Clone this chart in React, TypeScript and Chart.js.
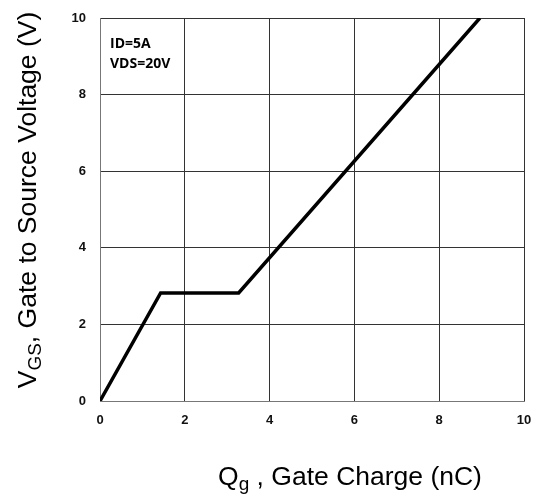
import React, { useEffect, useRef } from "react";
import { Chart, registerables } from "chart.js";

Chart.register(...registerables);

const qg: number[] = [0, 1.43, 3.27, 8.96];
const vgs: number[] = [0, 2.82, 2.82, 10];
const xTicks: number[] = [0, 2, 4, 6, 8, 10];
const yTicks: number[] = [0, 2, 4, 6, 8, 10];
const noteLines: string[] = ["ID=5A", "VDS=20V"];

type Seg = { t: string; sub?: boolean };
const xTitle: Seg[] = [{ t: "Q" }, { t: "g", sub: true }, { t: " , Gate Charge (nC)" }];
const yTitle: Seg[] = [{ t: "V" }, { t: "GS", sub: true }, { t: ", Gate to Source Voltage (V)" }];

const FONT = "'Liberation Sans', Arial, sans-serif";

function drawSegs(ctx: CanvasRenderingContext2D, segs: Seg[], size: number) {
  const main = `${size}px ${FONT}`;
  const sub = `${Math.round(size * 0.7)}px ${FONT}`;
  let w = 0;
  for (const s of segs) {
    ctx.font = s.sub ? sub : main;
    w += ctx.measureText(s.t).width;
  }
  let x = -w / 2;
  for (const s of segs) {
    ctx.font = s.sub ? sub : main;
    ctx.fillText(s.t, x, s.sub ? size * 0.2 : 0);
    x += ctx.measureText(s.t).width;
  }
}

const titlesPlugin = {
  id: "titlesPlugin",
  afterDraw(chart: any) {
    const ctx: CanvasRenderingContext2D = chart.ctx;
    ctx.save();
    ctx.fillStyle = "#000";
    ctx.textBaseline = "alphabetic";
    ctx.textAlign = "left";
    ctx.save();
    ctx.translate(350, 485);
    drawSegs(ctx, xTitle, 26.5);
    ctx.restore();
    ctx.save();
    ctx.translate(36, 200);
    ctx.rotate(-Math.PI / 2);
    drawSegs(ctx, yTitle, 26.5);
    ctx.restore();
    ctx.font = `bold 14px 'Open Sans', 'Liberation Sans', sans-serif`;
    noteLines.forEach((line, i) => {
      ctx.fillText(line, 110, 48 + i * 20);
    });
    ctx.restore();
  },
};

export default function App() {
  const ref = useRef<HTMLCanvasElement | null>(null);
  useEffect(() => {
    document.body.style.margin = "0";
    const canvas = ref.current!;
    const chart = new Chart(canvas, {
      type: "line",
      data: {
        datasets: [
          {
            data: qg.map((x, i) => ({ x, y: vgs[i] })),
            borderColor: "#000",
            borderWidth: 3.5,
            pointRadius: 0,
            tension: 0,
            fill: false,
          },
        ],
      },
      options: {
        animation: false,
        responsive: false,
        maintainAspectRatio: false,
        layout: { padding: { left: 0, top: 18, right: 17, bottom: 0 } },
        plugins: { legend: { display: false }, tooltip: { enabled: false } },
        scales: {
          x: {
            type: "linear",
            min: 0,
            max: 10,
            afterFit: (s: any) => {
              s.height = 93;
              s.paddingLeft = 0;
              s.paddingRight = 0;
            },
            afterBuildTicks: (s: any) => {
              s.ticks = xTicks.map((v) => ({ value: v }));
            },
            grid: { color: "#333", lineWidth: 1, drawTicks: false },
            border: { color: "#777", width: 1 },
            ticks: {
              padding: 12,
              color: "#111",
              font: { family: FONT, size: 13, weight: "bold" },
              maxRotation: 0,
            },
          },
          y: {
            type: "linear",
            min: 0,
            max: 10,
            afterFit: (s: any) => {
              s.width = 100;
              s.paddingTop = 0;
              s.paddingBottom = 0;
            },
            afterBuildTicks: (s: any) => {
              s.ticks = yTicks.map((v) => ({ value: v }));
            },
            grid: { color: "#333", lineWidth: 1, drawTicks: false },
            border: { color: "#777", width: 1 },
            ticks: {
              padding: 14,
              color: "#111",
              font: { family: FONT, size: 13, weight: "bold" },
            },
          },
        },
      },
      plugins: [titlesPlugin],
    } as any);
    return () => chart.destroy();
  }, []);
  return (
    <div style={{ width: 541, height: 494, background: "#fff" }}>
      <canvas ref={ref} width={541} height={494} style={{ display: "block" }} />
    </div>
  );
}
